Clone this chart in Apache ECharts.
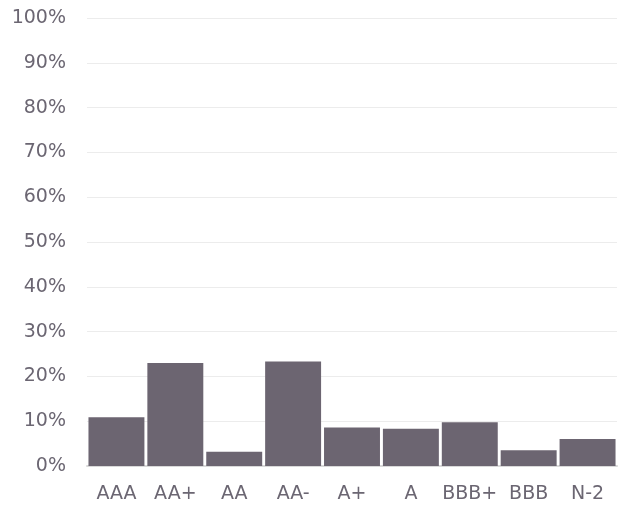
<!DOCTYPE html>
<html><head><meta charset="utf-8">
<script src="https://cdn.jsdelivr.net/npm/echarts@6/dist/echarts.min.js"></script>
<style>html,body{margin:0;padding:0;background:#fff}#c{width:623px;height:506px}</style>
</head><body><div id="c"></div>
<script>
const categories = ["AAA","AA+","AA","AA-","A+","A","BBB+","BBB","N-2"];
const values = [10.9, 23.0, 3.2, 23.3, 8.6, 8.3, 9.75, 3.5, 6.0];
const chart = echarts.init(document.getElementById('c'));
chart.setOption({
  animation: false,
  grid: {left: 87, right: 6, top: 18, bottom: 40},
  xAxis: {
    type: 'category', data: categories,
    axisTick: {show: false},
    axisLine: {lineStyle: {color: '#d9d9d9', width: 2}},
    axisLabel: {interval: 0, color: '#6b6672', fontSize: 19, fontFamily: 'DejaVu Sans', margin: 19}
  },
  yAxis: {
    type: 'value', min: 0, max: 100, interval: 10,
    axisLabel: {formatter: '{value}%', color: '#6b6672', fontSize: 19, fontFamily: 'DejaVu Sans', margin: 21},
    splitLine: {lineStyle: {color: '#ececec'}},
    axisLine: {show: false}, axisTick: {show: false}
  },
  series: [{
    type: 'bar', data: values, barCategoryGap: '5%',
    itemStyle: {color: '#6c6571'}
  }]
});
</script></body></html>
